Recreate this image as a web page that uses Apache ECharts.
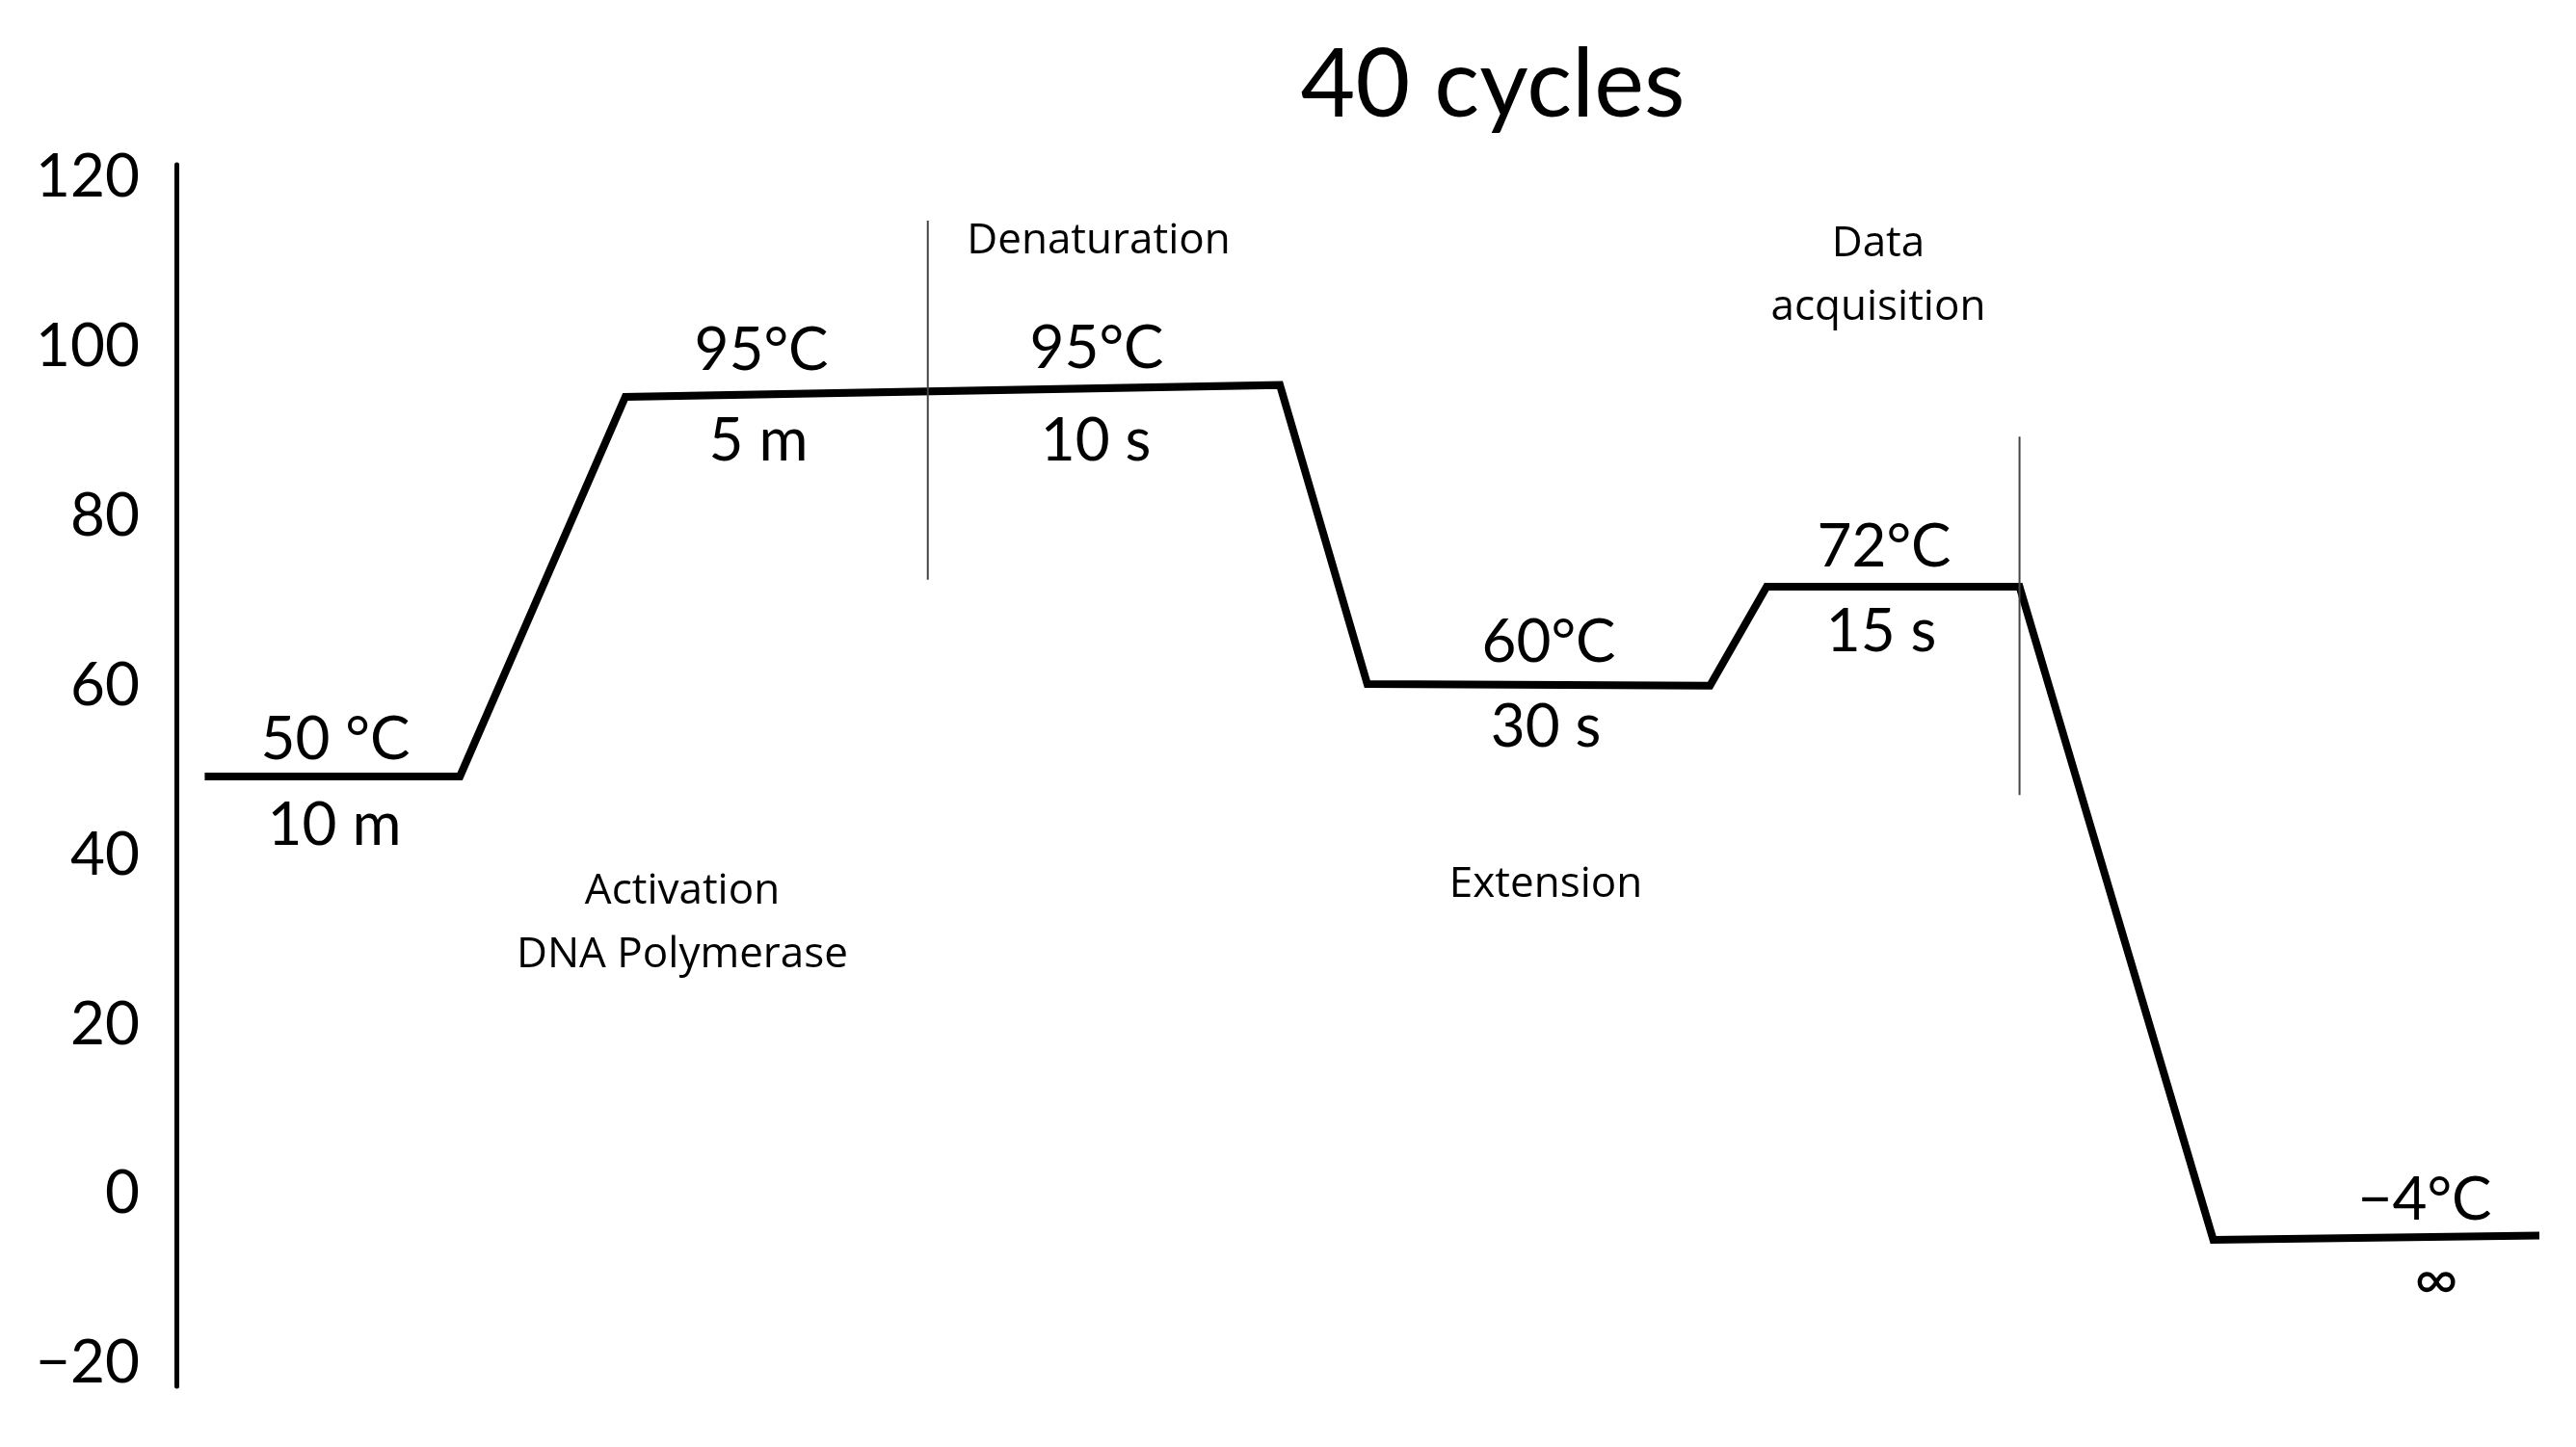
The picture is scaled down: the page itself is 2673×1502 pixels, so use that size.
<!DOCTYPE html>
<html>
<head>
<meta charset="utf-8">
<script src="https://cdn.jsdelivr.net/npm/echarts@6/dist/echarts.min.js"></script>
<style>
  html, body { margin: 0; padding: 0; background: #fff; }
  #main { width: 2673px; height: 1502px; }
</style>
</head>
<body>
<div id="main"></div>
<script>
// temperature profile of the PCR program (time in arbitrary units, temp in °C)
const profileTime = [1.2, 12.0, 19.0, 46.7, 50.4, 64.9, 67.3, 78.0, 86.2, 100];
const profileTemp = [49.3, 49.3, 94.1, 95.5, 60.2, 60.0, 71.7, 71.7, -5.4, -4.9];

// thin marker lines (start of cycle / data acquisition)
const denatTime = [31.8, 31.8];
const denatTemp = [114.9, 72.5];
const acqTime = [78.0, 78.0];
const acqTemp = [89.4, 47.1];

const yTicks = [-20, 0, 20, 40, 60, 80, 100, 120];

const FONT = 'Lato';
// step names: Open Sans has no "ti" ligature
const NOTE_FONT = '"Open Sans"';

var chartDom = document.getElementById('main');
var myChart = echarts.init(chartDom);
var option;

function pairs(xs, ys) {
  return xs.map(function (x, i) {
    return [x, ys[i]];
  });
}

function label(text, x, y, size, family) {
  return {
    type: 'text',
    x: x,
    y: y,
    style: {
      text: text,
      font: size + 'px ' + (family || FONT),
      fill: '#000',
      textAlign: 'center',
      textVerticalAlign: 'middle',
      lineHeight: Math.round(size * 1.5)
    }
  };
}

option = {
  backgroundColor: '#fff',
  animation: false,
  grid: {
    left: 183,
    right: 38,
    top: 171,
    bottom: 63
  },
  xAxis: {
    type: 'value',
    min: 0,
    max: 100,
    show: false
  },
  yAxis: {
    type: 'value',
    min: -22.7,
    max: 121.5,
    axisLine: {
      show: true,
      lineStyle: { color: '#000', width: 5 }
    },
    axisTick: { show: false },
    splitLine: { show: false },
    axisLabel: {
      customValues: yTicks,
      margin: 38,
      fontSize: 62,
      fontFamily: FONT,
      color: '#000',
      formatter: function (v) {
        return String(v).replace('-', '\u2212');
      }
    }
  },
  series: [
    {
      type: 'line',
      data: pairs(profileTime, profileTemp),
      symbol: 'none',
      lineStyle: { color: '#000', width: 8, join: 'miter', cap: 'butt' }
    },
    {
      type: 'line',
      data: pairs(denatTime, denatTemp),
      symbol: 'none',
      lineStyle: { color: '#444', width: 2 }
    },
    {
      type: 'line',
      data: pairs(acqTime, acqTemp),
      symbol: 'none',
      lineStyle: { color: '#444', width: 2 }
    }
  ],
  graphic: {
    elements: [
      label('40 cycles', 1549, 89, 98),
      label('50 \u00b0C', 348, 768, 62),
      label('10 m', 347, 857, 62),
      label('95\u00b0C', 790, 364, 62),
      label('5 m', 787, 458, 62),
      label('95\u00b0C', 1138, 362, 62),
      label('10 s', 1137, 458, 62),
      label('60\u00b0C', 1607, 667, 62),
      label('30 s', 1604, 755, 62),
      label('72\u00b0C', 1955, 568, 62),
      label('15 s', 1952, 656, 62),
      label('\u22124\u00b0C', 2516, 1246, 62),
      label('\u221e', 2528, 1329, 62),
      label('Denaturation', 1140, 250, 44, NOTE_FONT),
      label('Data\nacquisition', 1949, 286, 44, NOTE_FONT),
      label('Activation\nDNA Polymerase', 708, 958, 44, NOTE_FONT),
      label('Extension', 1604, 918, 44, NOTE_FONT)
    ]
  }
};

option && myChart.setOption(option);
</script>
</body>
</html>
